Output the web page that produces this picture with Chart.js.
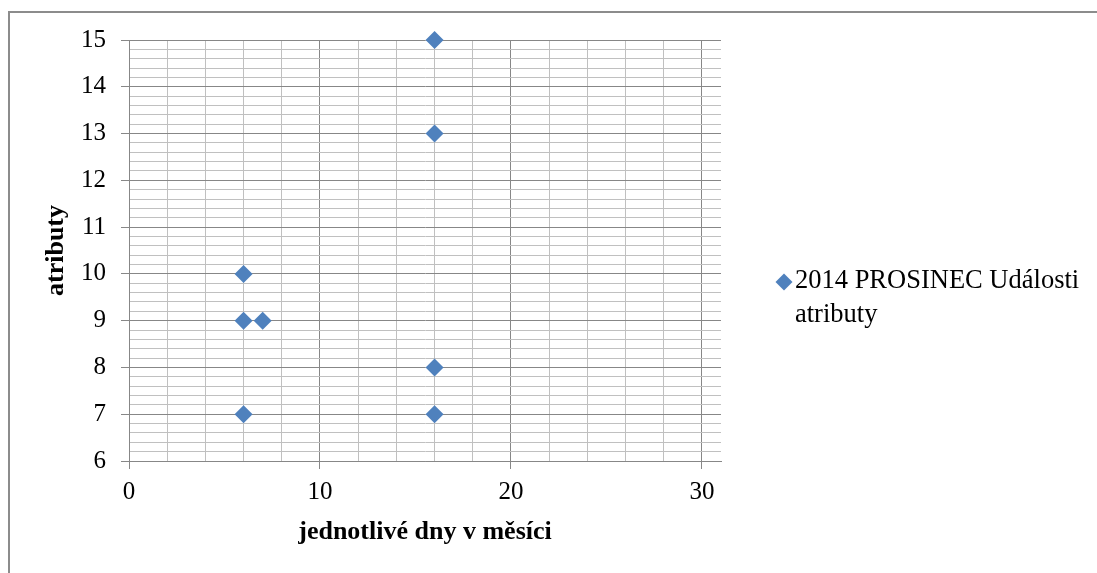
<!DOCTYPE html>
<html>
<head>
<meta charset="utf-8">
<script src="https://cdn.jsdelivr.net/npm/chart.js@4"></script>
<style>
  html, body { margin: 0; padding: 0; background: #fff; overflow: hidden; }
  #wrap { position: relative; width: 1097px; height: 573px; }
  #frame { position: absolute; left: 8px; top: 11px; right: -10px; bottom: -10px;
           border-left: 2px solid #8c8c8c; border-top: 2px solid #8c8c8c; }
  #legend { position: absolute; left: 795px; top: 262px; width: 300px;
            font-family: "Liberation Serif", "Times New Roman", serif; font-size: 26.5px;
            line-height: 34px; color: #000; }
  #legend .mk { position: absolute; left: -17px; top: 14px; width: 12px; height: 12px;
                background: #4F81BD; transform: rotate(45deg); }
  canvas { position: absolute; left: 0; top: 0; }
</style>
</head>
<body>
<div id="wrap">
  <div id="frame"></div>
  <canvas id="myChart" width="1097" height="573"></canvas>
  <div id="legend"></div>
</div>
<script>
// data
const seriesName = '2014 PROSINEC Události atributy';
const dny = [16, 16, 6, 6, 7, 16, 6, 16];
const atributy = [15, 13, 10, 9, 9, 8, 7, 7];
const xTitle = 'jednotlivé dny v měsíci';
const yTitle = 'atributy';

document.addEventListener('DOMContentLoaded', function () {
    const ctx = document.getElementById('myChart').getContext('2d');
    const serif = '"Liberation Serif", "Times New Roman", serif';
    const majorColor = '#878787';
    const minorColor = '#c0c0c0';

    const points = dny.map((d, i) => ({ x: d, y: atributy[i] }));

    // je hodnota "hlavni" (s popiskem)?
    function isMajorY(v) { return Math.abs(v - Math.round(v)) < 1e-6; }
    function isMajorX(v) { return v % 10 === 0; }

    // pomocne znacky mrizky: x po 2 dnech, y po 0.2
    function xTicks(scale) {
        const t = [];
        for (let v = 0; v <= 30; v += 2) t.push({ value: v });
        scale.ticks = t;
    }
    function yTicks(scale) {
        const t = [];
        for (let i = 0; i <= 45; i++) t.push({ value: Math.round((6 + i * 0.2) * 10) / 10 });
        scale.ticks = t;
    }

    new Chart(ctx, {
        type: 'scatter',
        data: {
            datasets: [{
                label: seriesName,
                data: points,
                pointStyle: 'rectRot',
                pointRadius: 9,
                pointHoverRadius: 9,
                backgroundColor: '#4F81BD',
                borderColor: '#4F81BD',
                borderWidth: 0,
                clip: false
            }]
        },
        options: {
            responsive: false,
            animation: false,
            layout: { padding: { top: 40, right: 376, left: 0, bottom: 0 } },
            plugins: {
                legend: { display: false },
                tooltip: { enabled: false }
            },
            scales: {
                x: {
                    type: 'linear',
                    min: 0,
                    max: 31,
                    afterBuildTicks: xTicks,
                    afterFit: s => { s.height = 112; },
                    ticks: {
                        autoSkip: false,
                        maxRotation: 0,
                        padding: 8,
                        color: '#000',
                        font: { family: serif, size: 25 },
                        callback: v => isMajorX(v) ? v : ''
                    },
                    grid: {
                        color: c => c.tick && isMajorX(c.tick.value) ? majorColor : minorColor,
                        tickColor: c => c.tick && isMajorX(c.tick.value) ? majorColor : 'rgba(0,0,0,0)',
                        tickLength: 8
                    },
                    border: { color: majorColor },
                    title: {
                        display: true,
                        text: xTitle,
                        color: '#000',
                        font: { family: serif, size: 26, weight: 'bold' },
                        padding: { top: 4, bottom: 25 }
                    }
                },
                y: {
                    type: 'linear',
                    min: 6,
                    max: 15,
                    afterBuildTicks: yTicks,
                    afterFit: s => { s.width = 129; },
                    ticks: {
                        autoSkip: false,
                        padding: 15,
                        color: '#000',
                        font: { family: serif, size: 25 },
                        callback: v => isMajorY(v) ? Math.round(v) : ''
                    },
                    grid: {
                        color: c => c.tick && isMajorY(c.tick.value) ? majorColor : minorColor,
                        tickColor: c => c.tick && isMajorY(c.tick.value) ? majorColor : 'rgba(0,0,0,0)',
                        tickLength: 8
                    },
                    border: { color: majorColor },
                    title: {
                        display: true,
                        text: yTitle,
                        color: '#000',
                        font: { family: serif, size: 26, weight: 'bold' },
                        padding: { top: 41, bottom: 4 }
                    }
                }
            }
        }
    });

    // legenda
    const lg = document.getElementById('legend');
    const mk = document.createElement('span');
    mk.className = 'mk';
    lg.appendChild(mk);
    lg.appendChild(document.createTextNode(seriesName));
});
</script>
</body>
</html>
